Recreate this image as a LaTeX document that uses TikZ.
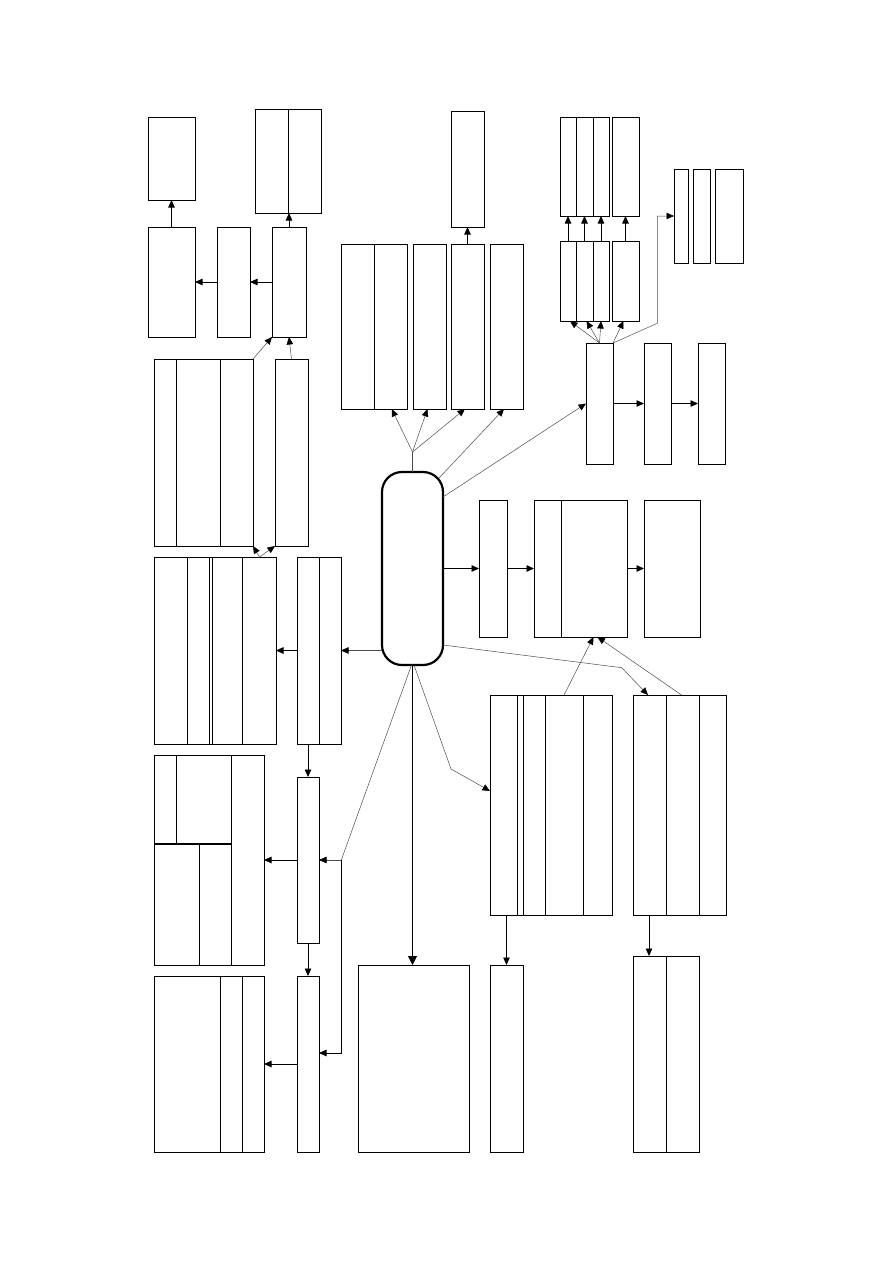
\documentclass[tikz,border=0pt]{standalone}
\usetikzlibrary{arrows.meta,calc}
\tikzset{
  box/.style={draw, line width=0.9pt, inner sep=0pt, outer sep=0pt, rectangle},
  hub/.style={draw, line width=2.2pt, rounded corners=20pt, inner sep=0pt, outer sep=0pt, rectangle},
  divl/.style={line width=0.9pt},
  arr/.style={line width=0.8pt, -{Triangle[length=7.5pt,width=6.5pt]}},
  bigarr/.style={line width=0.8pt, -{Triangle[length=9pt,width=9pt]}},
  tarr/.style={line width=0.5pt, draw=black!70, -{Triangle[length=7.5pt,width=6.5pt,color=black]}},
  tline/.style={line width=0.5pt, draw=black!70},
}
\newcommand\mkbox[6][box]{\node[#1, minimum width={#5pt-#3pt}, minimum height={#6pt-#4pt}] (#2) at ({(#3+#5)/2},{(#4+#6)/2}) {};}
\newcommand\mkdiv[3]{\draw[divl] (#1,#2) -- (#1,#3);}
\begin{document}
\begin{tikzpicture}[x=1pt,y=-1pt]
\useasboundingbox (0,0) rectangle (893,1263);
% ---- left column
\mkbox{A1}{148}{117}{195}{200}
\mkbox{A2}{255}{109}{321}{213}\mkdiv{288}{109}{213}
\mkbox{B1}{148}{227}{195}{337}
\mkbox{B2}{217}{227}{250}{337}
\mkbox{B3}{272}{227}{306}{337}
\mkbox{C1}{154}{359}{253}{546}\mkdiv{176}{359}{546}\mkdiv{220}{359}{546}
\mkbox{C2}{275}{359}{308}{546}
\mkbox{D1}{154}{557}{276}{744}\mkdiv{187}{557}{744}\mkdiv{209}{557}{744}\mkdiv{212}{557}{744}\mkdiv{242}{557}{744}
\mkbox{D2}{297}{557}{341}{744}\mkdiv{319}{557}{744}
\mkbox{F1}{154}{755}{264}{965}
\draw[line width=1.4pt] (154,844) -- (231,844);
\mkdiv{176}{755}{844}\mkdiv{231}{755}{965}\mkdiv{199}{844}{965}
\mkbox{F2}{154}{976}{264}{1152}\mkdiv{220}{976}{1152}\mkdiv{242}{976}{1152}
\mkbox{G1}{297}{777}{319}{943}
\mkbox{G2}{297}{976}{319}{1152}
% ---- centre
\mkbox[hub]{Z}{382}{472}{443}{665}
\mkbox{H1}{358}{965}{469}{1152}
\mkbox{Q1}{341.7}{244}{407.7}{409}\mkdiv{374.7}{244}{409}
\mkbox{Q2}{413}{244}{446}{409}
\mkbox{Q3}{451}{244}{484}{409}
\mkbox{Q4}{490}{244}{523}{409}
\mkbox{R1}{451}{111}{484}{227}
% ---- right
\mkbox{N1}{479}{500}{507}{637}
\mkbox{K2}{534}{500}{627}{637}\mkdiv{561}{500}{637}
\mkbox{O1}{644}{500}{700}{637}
\mkbox{I1}{490}{695}{612}{915}\mkdiv{517}{695}{915}\mkdiv{523}{695}{915}\mkdiv{545}{695}{915}\mkdiv{583}{695}{915}
\mkbox{J1}{633}{695}{726}{915}\mkdiv{666}{695}{915}\mkdiv{699}{695}{915}
\mkbox{L1}{490}{965}{523}{1152}
\mkbox{M1}{633}{956}{699}{1152}\mkdiv{666}{956}{1152}
\mkbox{S1}{560}{117}{609}{216}\mkdiv{576}{117}{216}\mkdiv{593}{117}{216}
\mkbox{S2}{612}{117}{639}{216}
\mkbox{T1}{560}{241}{609}{321}\mkdiv{576}{241}{321}\mkdiv{593}{241}{321}
\mkbox{T2}{612}{241}{639}{321}
\mkbox{U1}{586}{343}{613}{464}
\mkbox{U2}{644}{343}{671}{464}
\mkbox{U3}{698}{343}{725}{464}
\mkbox{V1}{674}{169}{688}{263}
\mkbox{V2}{693}{169}{710}{263}
\mkbox{V3}{715}{169}{743}{263}
% ---- helper coordinates
\coordinate (fan) at (412.5,452);
\coordinate (jb) at (621.7,667.7);
\coordinate (ib) at (451,769);
\coordinate (gb) at (341.3,860);
\coordinate (vb) at (657.3,323.3);
% ---- connectors left
\draw[arr] (B3.west) -- (B2.east);
\draw[arr] (B2.west) -- (B1.east);
\draw[arr] (B1.north) -- (A1.south);
\draw[arr] (B3.north) -- (B3.north |- A2.south);
\draw[tarr] (C1.north east) -- (B3.south west);
\draw[tarr] (C2.north) -- (B3.south);
\draw[tarr] ($(D1.north east)+(-16.5,0)$) -- (C1.south east);
\draw[tarr] ($(D1.north east)+(-16.5,0)$) -- (C2.south west);
\draw[arr] (D2.west) -- (D1.east);
\draw[tarr] (Z.west |- D2.east) -- (D2.east);
\draw[arr] (G1.north |- D2.south) -- (G1.north);
\draw[arr] (G1.south) -- (G2.north);
\draw[arr] (G1.west) -- (F1.east);
\draw[arr] (G2.west) -- (F2.east);
\draw[tline] ($(Z.south)+(-1,0)$) -- (gb);
\draw[tarr] (gb) -- (G1.east);
\draw[arr] (gb) |- ($(G2.east)+(0,-11)$);
% ---- connectors centre
\draw[bigarr] (Z.south) -- (Z.south |- H1.north);
\draw[tline] (Z.north) -- (fan);
\draw[tarr] (fan) -- ($(Q1.south east)+(-16,0)$);
\draw[tarr] (fan) -- ($(Q2.south)+(-2,0)$);
\draw[tarr] (fan) -- ($(Q3.south)+(-2.5,0)$);
\draw[tarr] ($(Z.north east)+(-4,6)$) -- ($(Q4.south)+(-2.5,0)$);
\draw[arr] (Q3.north) -- (R1.south);
\draw[tarr] ($(Z.north east)+(0,25)$) -- (U1.west);
\draw[arr] (Z.east) -- (N1.west);
\draw[arr] (N1.east) -- (K2.west);
\draw[arr] (K2.east) -- (O1.west);
\draw[tarr] ($(Z.south east)+(0,-20)$) -- (jb) -- ($(J1.north west)+(15,0)$);
\draw[tarr] ($(Z.south)+(1.5,0)$) -- (ib) -- ($(I1.west)+(0,-14)$);
\draw[tarr] ($(I1.north)+(13,0)$) -- ($(K2.south)+(13,0)$);
\draw[tarr] ($(J1.north)+(2,0)$) -- ($(K2.south)+(17,0)$);
\draw[arr] (L1.north |- I1.south) -- (L1.north);
\draw[arr] ($(J1.south west)+(16,0)$) -- ($(M1.north west)+(16,0)$);
% ---- connectors top right
\draw[arr] (U1.east) -- (U2.west);
\draw[arr] (U2.east) -- (U3.west);
\draw[tarr] (U1.north) -- ($(T1.south west)+(10,0)$);
\draw[tarr] (U1.north) -- ($(T1.south west)+(26.5,0)$);
\draw[tarr] (U1.north) -- ($(T1.south west)+(41,0)$);
\draw[tarr] (U1.north east) -- ($(T2.south)+(-2,0)$);
\draw[tarr] (U1.north east) -- (vb) |- (V1.west);
\draw[arr] ($(T1.north west)+(8,0)$) -- ($(S1.south west)+(8,0)$);
\draw[arr] ($(T1.north west)+(24.5,0)$) -- ($(S1.south west)+(24.5,0)$);
\draw[arr] ($(T1.north west)+(41,0)$) -- ($(S1.south west)+(41,0)$);
\draw[arr] (T2.north) -- (S2.south);
\end{tikzpicture}
\end{document}
